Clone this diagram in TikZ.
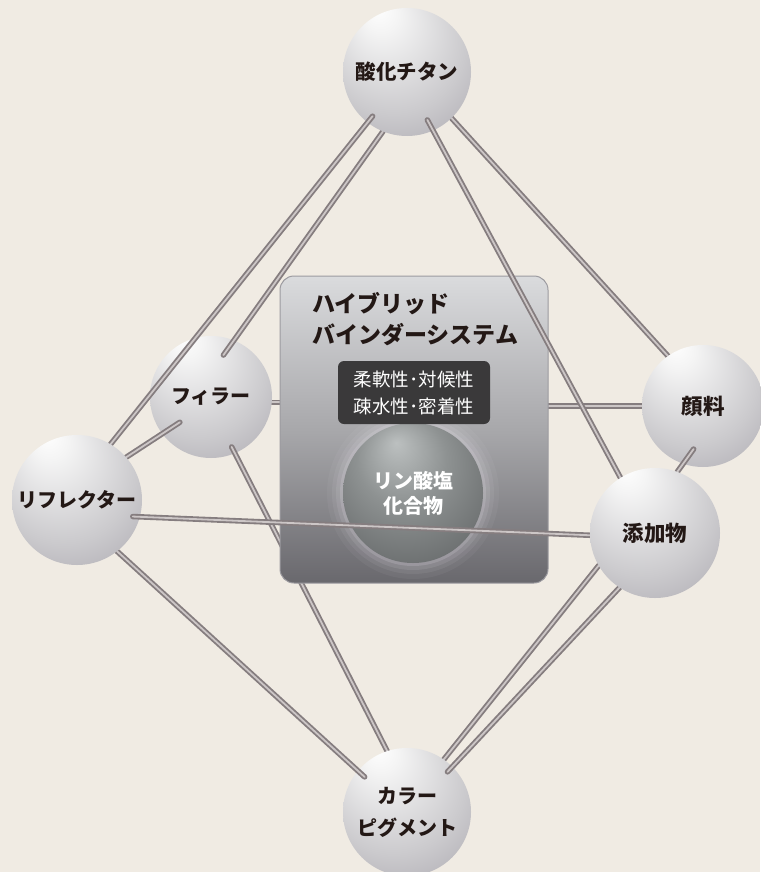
\documentclass[tikz,border=0pt]{standalone}
\usepackage{fontspec}
\newfontfamily\jp{Noto Sans CJK JP}
\usetikzlibrary{calc}

\definecolor{wall}{HTML}{F0EBE3}
\definecolor{ink}{HTML}{231815}
\definecolor{rodedge}{HTML}{857D7F}
\definecolor{rodlight}{HTML}{CCC6C6}
\definecolor{pearlhi}{HTML}{F4F4F4}
\definecolor{pearlmid}{HTML}{CBCACD}
\definecolor{pearlrim}{HTML}{A5A2AA}
\definecolor{pearledge}{HTML}{B6B2BC}
\definecolor{corehi}{HTML}{BCC0C0}
\definecolor{coremid}{HTML}{8E9292}
\definecolor{coredark}{HTML}{5E6162}
\definecolor{corerim}{HTML}{C8C2CF}
\definecolor{paneltop}{HTML}{DADBDD}
\definecolor{panelmid}{HTML}{A8A8AB}
\definecolor{panelbottom}{HTML}{69686D}
\definecolor{panelline}{HTML}{9C9BA0}
\definecolor{tagfill}{HTML}{3A393A}
\definecolor{halo}{HTML}{EEE9F2}

% shiny balls, light coming from above
\pgfdeclareradialshading{pearl}{\pgfpoint{-12bp}{26bp}}{%
  color(0bp)=(white); color(7bp)=(pearlhi); color(28bp)=(pearlmid);
  color(45bp)=(pearlrim); color(50bp)=(pearledge)}
\pgfdeclareradialshading{coreball}{\pgfpoint{-6bp}{18bp}}{%
  color(0bp)=(corehi); color(16bp)=(coremid); color(40bp)=(coredark);
  color(47bp)=(coredark); color(50bp)=(corerim)}

% stacking order, so rods can run in front of one ball and behind the next
\pgfdeclarelayer{wall}
\pgfdeclarelayer{rod0}
\pgfdeclarelayer{ball1}
\pgfdeclarelayer{rod1}
\pgfdeclarelayer{panel}
\pgfdeclarelayer{ball2}
\pgfdeclarelayer{rod2}
\pgfdeclarelayer{ball3}
\pgfdeclarelayer{rod3}
\pgfsetlayers{wall,rod0,ball1,rod1,panel,ball2,rod2,ball3,rod3,main}

\tikzset{
x=1pt, y=-1pt, % one unit per pixel, y runs down
ball/.style={circle, shade, shading=pearl, minimum size=#1, inner sep=0pt, outer sep=0pt,
  text=ink, align=center, font=\jp\bfseries\fontsize{20}{32}\selectfont}, % the white balls
big/.style={font=\jp\bfseries\fontsize{21.5}{32}\selectfont}, % kanji labels are set a bit larger
rod/.style={draw=rodedge, line width=5.5pt, line cap=round,
  postaction={draw=rodlight, line width=1.8pt}}, % connecting bars
into/.style={shorten <=-#1}, % start runs into the ball it leaves
onto/.style={shorten >=-#1}, % end runs into the ball it reaches
panel/.style={rectangle, rounded corners=14pt, minimum width=268pt, minimum height=307pt,
  draw=panelline, line width=1pt, top color=paneltop, bottom color=panelbottom, middle color=panelmid},
tag/.style={rectangle, rounded corners=6pt, minimum width=152pt, minimum height=63pt, inner sep=0pt,
  fill=tagfill, text=white, align=center, font=\jp\fontsize{18.5}{27}\selectfont},
core/.style={circle, shade, shading=coreball, minimum size=140pt, inner sep=0pt,
  text=white, align=center, font=\jp\bfseries\fontsize{20}{25}\selectfont},
}

\begin{document}
\begin{tikzpicture}
    \begin{pgfonlayer}{wall}
        \fill[wall] (0,0) rectangle (760,872);
    \end{pgfonlayer}
    \useasboundingbox (0,0) rectangle (760,872);

    \begin{pgfonlayer}{ball1}
        \node[ball=122pt] (fil) at (211,397) {フィラー};
        \node[ball=122pt, big] (gan) at (703,406) {顔料};
    \end{pgfonlayer}

    \begin{pgfonlayer}{panel}
        \node[panel] (box) at (414,429.5) {};
        \node[anchor=west, inner sep=0pt, align=left, text=ink,
              font=\jp\bfseries\fontsize{23}{31}\selectfont] (head) at (312,319.5)
              {ハイブリッド\\バインダーシステム};
        \coordinate (mid) at (413,493);
        \foreach \r/\o in {86/0.05, 81/0.07, 77/0.1, 73/0.16}
            \fill[halo, opacity=\o] (mid) circle (\r);
        \node[core] (core) at (mid) {リン酸塩\\化合物};
        \node[tag] (props) at (414,392.5) {柔軟性･対候性\\疎水性･密着性};
    \end{pgfonlayer}

    \begin{pgfonlayer}{ball2}
        \node[ball=128pt, font=\jp\bfseries\fontsize{20.5}{32}\selectfont] (ti) at (407,72) {酸化チタン};
        \node[ball=128pt] (pig) at (407,812) {カラー\\ピグメント};
    \end{pgfonlayer}

    \begin{pgfonlayer}{ball3}
        \node[ball=130pt] (ref) at (77,500) {リフレクター};
    \end{pgfonlayer}

    \node[ball=130pt, big] (add) at (655,533) {添加物};

    % bars hidden at both ends
    \begin{pgfonlayer}{rod0}
        \draw[rod] (ti.314) -- (gan.125);
        \draw[rod] (fil.355) -- (fil.355 -| box.west);
        \draw[rod] (box.east |- gan.180) -- (gan.180);
        \draw[rod] (add.210) -- (pig.55);
    \end{pgfonlayer}

    \begin{pgfonlayer}{rod1}
        \draw[rod, onto=18pt] (ti.248) -- (fil.68);
        \draw[rod, into=21pt] (fil.217) -- (ref.41);
        \draw[rod, into=7pt] (fil.293) -- (pig.108);
        \draw[rod, into=18pt] (gan.251) -- (add.70);
    \end{pgfonlayer}

    \begin{pgfonlayer}{rod2}
        \draw[rod, into=8pt] (ti.232) -- (ref.59);
        \draw[rod, into=12pt] (ti.294) -- (add.122);
        \draw[rod, onto=9pt] (ref.308) -- (pig.140);
        \draw[rod, onto=7pt] (add.237) -- (pig.45);
    \end{pgfonlayer}

    \begin{pgfonlayer}{rod3}
        \draw[rod, into=7pt] (ref.345) -- (add.182);
    \end{pgfonlayer}
\end{tikzpicture}
\end{document}
